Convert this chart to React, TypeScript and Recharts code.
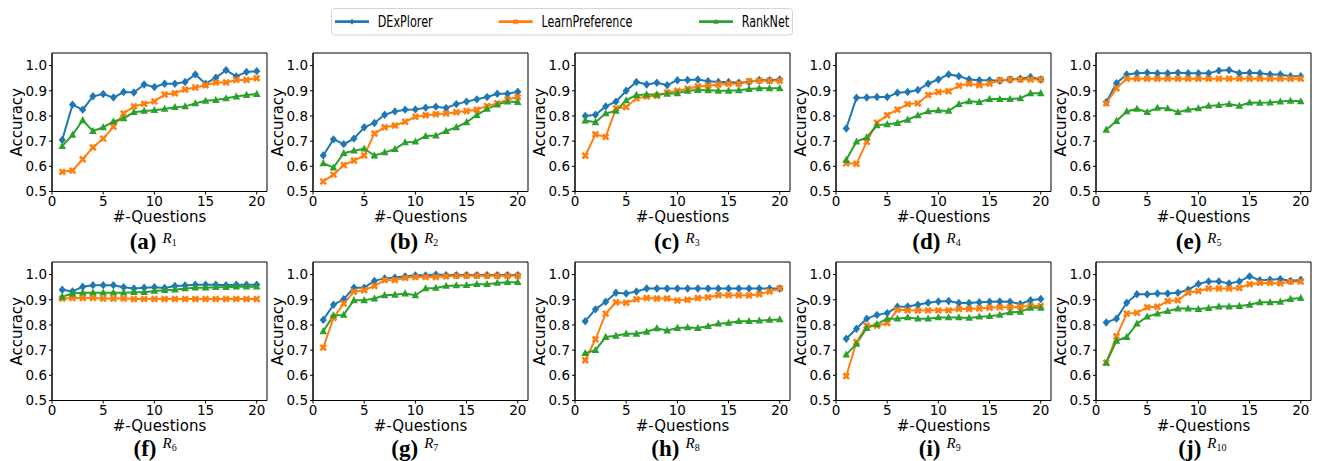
import React from 'react';
import { LineChart, Line, XAxis, YAxis, ReferenceArea } from 'recharts';

const questions = [1, 2, 3, 4, 5, 6, 7, 8, 9, 10, 11, 12, 13, 14, 15, 16, 17, 18, 19, 20];
const xTicks = [0, 5, 10, 15, 20];
const yTicks = [0.5, 0.6, 0.7, 0.8, 0.9, 1.0];
const seriesNames = ['DExPlorer', 'LearnPreference', 'RankNet'];
const seriesColors = ['#1f77b4', '#ff7f0e', '#2ca02c'];
const panelLetters = ['a', 'b', 'c', 'd', 'e', 'f', 'g', 'h', 'i', 'j'];
const panelSubscripts = ['1', '2', '3', '4', '5', '6', '7', '8', '9', '10'];

// R1
const r1DExPlorer = [0.705, 0.845, 0.825, 0.878, 0.887, 0.873, 0.895, 0.893, 0.925, 0.915, 0.928, 0.928, 0.935, 0.965, 0.928, 0.952, 0.982, 0.957, 0.975, 0.978];
const r1LearnPreference = [0.578, 0.583, 0.628, 0.675, 0.71, 0.757, 0.81, 0.838, 0.848, 0.858, 0.885, 0.89, 0.905, 0.913, 0.922, 0.933, 0.933, 0.943, 0.943, 0.95];
const r1RankNet = [0.68, 0.725, 0.783, 0.74, 0.755, 0.778, 0.79, 0.815, 0.82, 0.823, 0.828, 0.835, 0.838, 0.85, 0.86, 0.863, 0.87, 0.877, 0.883, 0.887];
// R2
const r2DExPlorer = [0.643, 0.707, 0.688, 0.71, 0.755, 0.772, 0.805, 0.818, 0.825, 0.826, 0.833, 0.837, 0.832, 0.847, 0.857, 0.866, 0.875, 0.888, 0.888, 0.896];
const r2LearnPreference = [0.54, 0.567, 0.605, 0.623, 0.643, 0.73, 0.755, 0.762, 0.777, 0.797, 0.803, 0.807, 0.81, 0.815, 0.82, 0.825, 0.84, 0.85, 0.865, 0.875];
const r2RankNet = [0.612, 0.595, 0.652, 0.662, 0.67, 0.643, 0.655, 0.668, 0.695, 0.698, 0.72, 0.722, 0.74, 0.755, 0.775, 0.803, 0.828, 0.845, 0.857, 0.855];
// R3
const r3DExPlorer = [0.8, 0.805, 0.838, 0.857, 0.9, 0.935, 0.925, 0.932, 0.922, 0.942, 0.943, 0.945, 0.938, 0.935, 0.935, 0.932, 0.935, 0.943, 0.942, 0.945];
const r3LearnPreference = [0.642, 0.727, 0.717, 0.83, 0.835, 0.87, 0.877, 0.88, 0.893, 0.9, 0.908, 0.917, 0.92, 0.925, 0.928, 0.928, 0.938, 0.94, 0.94, 0.94];
const r3RankNet = [0.782, 0.775, 0.81, 0.82, 0.862, 0.883, 0.885, 0.885, 0.888, 0.89, 0.9, 0.903, 0.902, 0.9, 0.9, 0.902, 0.907, 0.91, 0.91, 0.91];
// R4
const r4DExPlorer = [0.75, 0.872, 0.873, 0.875, 0.875, 0.892, 0.895, 0.903, 0.928, 0.945, 0.965, 0.958, 0.945, 0.942, 0.942, 0.94, 0.945, 0.948, 0.955, 0.945];
const r4LearnPreference = [0.612, 0.61, 0.697, 0.773, 0.803, 0.825, 0.847, 0.85, 0.883, 0.895, 0.898, 0.92, 0.928, 0.922, 0.928, 0.942, 0.945, 0.945, 0.945, 0.945];
const r4RankNet = [0.625, 0.698, 0.715, 0.763, 0.767, 0.772, 0.785, 0.802, 0.818, 0.822, 0.82, 0.847, 0.858, 0.855, 0.867, 0.867, 0.867, 0.87, 0.89, 0.89];
// R5
const r5DExPlorer = [0.855, 0.93, 0.965, 0.97, 0.972, 0.97, 0.97, 0.972, 0.97, 0.97, 0.97, 0.98, 0.982, 0.97, 0.972, 0.97, 0.965, 0.965, 0.958, 0.958];
const r5LearnPreference = [0.85, 0.91, 0.948, 0.948, 0.948, 0.948, 0.948, 0.948, 0.948, 0.948, 0.948, 0.948, 0.948, 0.948, 0.948, 0.948, 0.948, 0.948, 0.948, 0.948];
const r5RankNet = [0.745, 0.78, 0.818, 0.828, 0.815, 0.832, 0.83, 0.815, 0.825, 0.83, 0.84, 0.843, 0.847, 0.84, 0.853, 0.852, 0.853, 0.857, 0.86, 0.858];
// R6
const r6DExPlorer = [0.94, 0.933, 0.952, 0.958, 0.958, 0.958, 0.95, 0.945, 0.948, 0.95, 0.947, 0.955, 0.957, 0.96, 0.96, 0.96, 0.958, 0.96, 0.96, 0.96];
const r6LearnPreference = [0.905, 0.907, 0.907, 0.907, 0.905, 0.905, 0.905, 0.903, 0.903, 0.903, 0.903, 0.903, 0.903, 0.903, 0.903, 0.903, 0.903, 0.903, 0.903, 0.903];
const r6RankNet = [0.912, 0.925, 0.928, 0.928, 0.928, 0.928, 0.928, 0.93, 0.93, 0.935, 0.938, 0.94, 0.945, 0.948, 0.948, 0.95, 0.95, 0.952, 0.952, 0.952];
// R7
const r7DExPlorer = [0.82, 0.88, 0.902, 0.948, 0.948, 0.975, 0.985, 0.988, 0.993, 0.997, 0.997, 1.0, 0.998, 0.998, 0.998, 0.998, 0.998, 0.998, 0.998, 0.998];
const r7LearnPreference = [0.71, 0.828, 0.885, 0.932, 0.938, 0.955, 0.978, 0.978, 0.987, 0.99, 0.99, 0.99, 0.993, 0.995, 0.995, 0.995, 0.995, 0.995, 0.995, 0.995];
const r7RankNet = [0.775, 0.838, 0.84, 0.898, 0.898, 0.905, 0.918, 0.92, 0.925, 0.918, 0.945, 0.947, 0.955, 0.957, 0.958, 0.962, 0.962, 0.967, 0.97, 0.97];
// R8
const r8DExPlorer = [0.815, 0.862, 0.892, 0.928, 0.925, 0.933, 0.945, 0.945, 0.945, 0.945, 0.945, 0.945, 0.945, 0.945, 0.945, 0.945, 0.945, 0.945, 0.945, 0.945];
const r8LearnPreference = [0.66, 0.743, 0.845, 0.89, 0.888, 0.902, 0.907, 0.905, 0.905, 0.897, 0.9, 0.907, 0.91, 0.918, 0.918, 0.918, 0.917, 0.922, 0.933, 0.945];
const r8RankNet = [0.688, 0.7, 0.752, 0.757, 0.765, 0.765, 0.773, 0.787, 0.778, 0.788, 0.79, 0.788, 0.795, 0.805, 0.808, 0.815, 0.815, 0.817, 0.82, 0.822];
// R9
const r9DExPlorer = [0.745, 0.785, 0.825, 0.84, 0.847, 0.872, 0.873, 0.88, 0.888, 0.893, 0.895, 0.887, 0.887, 0.89, 0.892, 0.893, 0.892, 0.883, 0.898, 0.903];
const r9LearnPreference = [0.597, 0.732, 0.797, 0.797, 0.808, 0.86, 0.858, 0.857, 0.858, 0.858, 0.858, 0.863, 0.863, 0.865, 0.868, 0.87, 0.87, 0.872, 0.875, 0.875];
const r9RankNet = [0.682, 0.725, 0.788, 0.803, 0.825, 0.825, 0.83, 0.825, 0.825, 0.83, 0.83, 0.83, 0.828, 0.833, 0.835, 0.84, 0.85, 0.852, 0.868, 0.868];
// R10
const r10DExPlorer = [0.81, 0.825, 0.888, 0.922, 0.922, 0.925, 0.925, 0.928, 0.94, 0.963, 0.973, 0.973, 0.965, 0.973, 0.993, 0.978, 0.98, 0.982, 0.975, 0.98];
const r10LearnPreference = [0.65, 0.755, 0.845, 0.848, 0.87, 0.872, 0.895, 0.898, 0.928, 0.935, 0.945, 0.945, 0.945, 0.947, 0.962, 0.967, 0.967, 0.965, 0.972, 0.972];
const r10RankNet = [0.65, 0.737, 0.752, 0.805, 0.833, 0.845, 0.855, 0.865, 0.865, 0.863, 0.867, 0.873, 0.873, 0.875, 0.88, 0.89, 0.89, 0.892, 0.903, 0.907];

const panelSeries = [
  [r1DExPlorer, r1LearnPreference, r1RankNet],
  [r2DExPlorer, r2LearnPreference, r2RankNet],
  [r3DExPlorer, r3LearnPreference, r3RankNet],
  [r4DExPlorer, r4LearnPreference, r4RankNet],
  [r5DExPlorer, r5LearnPreference, r5RankNet],
  [r6DExPlorer, r6LearnPreference, r6RankNet],
  [r7DExPlorer, r7LearnPreference, r7RankNet],
  [r8DExPlorer, r8LearnPreference, r8RankNet],
  [r9DExPlorer, r9LearnPreference, r9RankNet],
  [r10DExPlorer, r10LearnPreference, r10RankNet],
];

// layout
const PLOT_LEFTS = [51.5, 313.2, 574.5, 835.5, 1096.3];
const ROW_TOPS = [53.3, 262.3];
const PLOT_W = 215;
const PLOT_H = 138.5;
const Y_AXIS_W = 52;
const X_AXIS_H = 45;
const M_TOP = 6;
const M_RIGHT = 6;
const SANS = 'DejaVu Sans';
const SERIF = 'Liberation Serif';

const diamondShape = (color: string) => (p: any) => {
  const { cx, cy, index } = p;
  if (cx == null || cy == null) return <g key={`d${index}`} />;
  return (
    <path
      key={`d${index}`}
      d={`M${cx},${cy - 4.2} L${cx + 3.6},${cy} L${cx},${cy + 4.2} L${cx - 3.6},${cy} Z`}
      fill={color}
    />
  );
};

const xShape = (color: string) => (p: any) => {
  const { cx, cy, index } = p;
  if (cx == null || cy == null) return <g key={`x${index}`} />;
  const s = 2.8;
  return (
    <g key={`x${index}`}>
      <line x1={cx - s} y1={cy - s} x2={cx + s} y2={cy + s} stroke={color} strokeWidth={2.6} />
      <line x1={cx - s} y1={cy + s} x2={cx + s} y2={cy - s} stroke={color} strokeWidth={2.6} />
    </g>
  );
};

const triShape = (color: string) => (p: any) => {
  const { cx, cy, index } = p;
  if (cx == null || cy == null) return <g key={`t${index}`} />;
  return (
    <path
      key={`t${index}`}
      d={`M${cx},${cy - 4.2} L${cx + 3.8},${cy + 2.9} L${cx - 3.8},${cy + 2.9} Z`}
      fill={color}
    />
  );
};

const markerMakers = [diamondShape, xShape, triShape];

const YLabel = (props: any) => {
  const vb = props.viewBox || { x: 0, y: 0, width: 0, height: 0 };
  const x = vb.x + vb.width - 35;
  const y = vb.y + vb.height / 2;
  return (
    <text
      x={x}
      y={y}
      transform={`rotate(-90 ${x} ${y})`}
      textAnchor="middle"
      dominantBaseline="central"
      fontSize={15}
      fontFamily={SANS}
      fill="#000"
    >
      Accuracy
    </text>
  );
};

const XLabel = (props: any) => {
  const vb = props.viewBox || { x: 0, y: 0, width: 0, height: 0 };
  return (
    <text
      x={vb.x + vb.width / 2}
      y={vb.y + 30}
      textAnchor="middle"
      fontSize={15}
      fontFamily={SANS}
      fill="#000"
    >
      #-Questions
    </text>
  );
};

const Panel = ({ idx }: { idx: number }) => {
  const [dex, lp, rn] = panelSeries[idx];
  const data = questions.map((q, i) => ({ q, dex: dex[i], lp: lp[i], rn: rn[i] }));
  const keys = ['dex', 'lp', 'rn'];
  const col = idx % 5;
  const row = Math.floor(idx / 5);
  const left = PLOT_LEFTS[col] - Y_AXIS_W;
  const top = ROW_TOPS[row] - M_TOP;
  const tickStyle = { fill: '#000', fontSize: 13.5, fontFamily: SANS };
  return (
    <div style={{ position: 'absolute', left, top }}>
      <LineChart
        width={Y_AXIS_W + PLOT_W + M_RIGHT}
        height={M_TOP + PLOT_H + X_AXIS_H}
        data={data}
        margin={{ top: M_TOP, right: M_RIGHT, bottom: 0, left: 0 }}
      >
        <XAxis
          dataKey="q"
          type="number"
          domain={[0, 21]}
          ticks={xTicks}
          interval={0}
          allowDataOverflow
          height={X_AXIS_H}
          tick={tickStyle}
          tickSize={3}
          tickMargin={2}
          axisLine={{ stroke: '#000' }}
          tickLine={{ stroke: '#000' }}
          label={<XLabel />}
        />
        <YAxis
          type="number"
          domain={[0.5, 1.05]}
          ticks={yTicks}
          interval={0}
          allowDataOverflow
          width={Y_AXIS_W}
          tick={tickStyle}
          tickSize={3}
          tickMargin={2}
          tickFormatter={(v: number) => v.toFixed(1)}
          axisLine={{ stroke: '#000' }}
          tickLine={{ stroke: '#000' }}
          label={<YLabel />}
        />
        <ReferenceArea x1={0} x2={21} y1={0.5} y2={1.05} fill="none" fillOpacity={0} stroke="#000" strokeWidth={1} />
        {keys.map((k, s) => (
          <Line
            key={k}
            dataKey={k}
            name={seriesNames[s]}
            stroke={seriesColors[s]}
            strokeWidth={2}
            dot={markerMakers[s](seriesColors[s])}
            activeDot={false}
            isAnimationActive={false}
          />
        ))}
      </LineChart>
    </div>
  );
};

const legendLineStarts = [335, 498.7, 699];
const legendTextLengths = [55, 91, 47.5];

const Overlay = () => {
  const captionBase = [249, 456];
  const rBase = [243, 448];
  return (
    <svg
      width={1317}
      height={461}
      style={{ position: 'absolute', left: 0, top: 0, pointerEvents: 'none' }}
    >
      <rect x={331.5} y={8.5} width={461} height={26.5} rx={3} fill="#fff" stroke="#d5d5d5" strokeWidth={1} />
      {seriesNames.map((n, s) => {
        const x0 = legendLineStarts[s];
        const cy = 21.7;
        const cx = x0 + 17;
        const color = seriesColors[s];
        let marker: any = null;
        if (s === 0) marker = <path d={`M${cx},${cy - 3} L${cx + 2.4},${cy} L${cx},${cy + 3} L${cx - 2.4},${cy} Z`} fill={color} />;
        if (s === 1) marker = (
          <g>
            <line x1={cx - 2} y1={cy - 2} x2={cx + 2} y2={cy + 2} stroke={color} strokeWidth={2} />
            <line x1={cx - 2} y1={cy + 2} x2={cx + 2} y2={cy - 2} stroke={color} strokeWidth={2} />
          </g>
        );
        if (s === 2) marker = <path d={`M${cx},${cy - 3} L${cx + 2.7},${cy + 2} L${cx - 2.7},${cy + 2} Z`} fill={color} />;
        return (
          <g key={n}>
            <line x1={x0} y1={cy} x2={x0 + 34} y2={cy} stroke={color} strokeWidth={2.8} />
            {marker}
            <text
              x={x0 + 42.7}
              y={cy}
              dominantBaseline="central"
              fontSize={16}
              fontFamily={SANS}
              fill="#000"
              textLength={legendTextLengths[s]}
              lengthAdjust="spacingAndGlyphs"
            >
              {n}
            </text>
          </g>
        );
      })}
      {panelLetters.map((L, i) => {
        const col = i % 5;
        const row = Math.floor(i / 5);
        const cx = PLOT_LEFTS[col] + PLOT_W / 2;
        return (
          <g key={L}>
            <text
              x={cx - 2.5}
              y={captionBase[row]}
              textAnchor="end"
              fontFamily={SERIF}
              fontWeight="bold"
              fontSize={23}
              fill="#000"
            >
              ({L})
            </text>
            <text x={cx + 3.5} y={rBase[row]} fontFamily={SERIF} fontStyle="italic" fontSize={15} fill="#000">
              R
              <tspan fontStyle="normal" fontSize={10} dy={3}>
                {panelSubscripts[i]}
              </tspan>
            </text>
          </g>
        );
      })}
    </svg>
  );
};

export default function App() {
  return (
    <div style={{ position: 'absolute', left: 0, top: 0, width: 1317, height: 461, background: '#fff' }}>
      {panelLetters.map((L, i) => (
        <Panel key={L} idx={i} />
      ))}
      <Overlay />
    </div>
  );
}
